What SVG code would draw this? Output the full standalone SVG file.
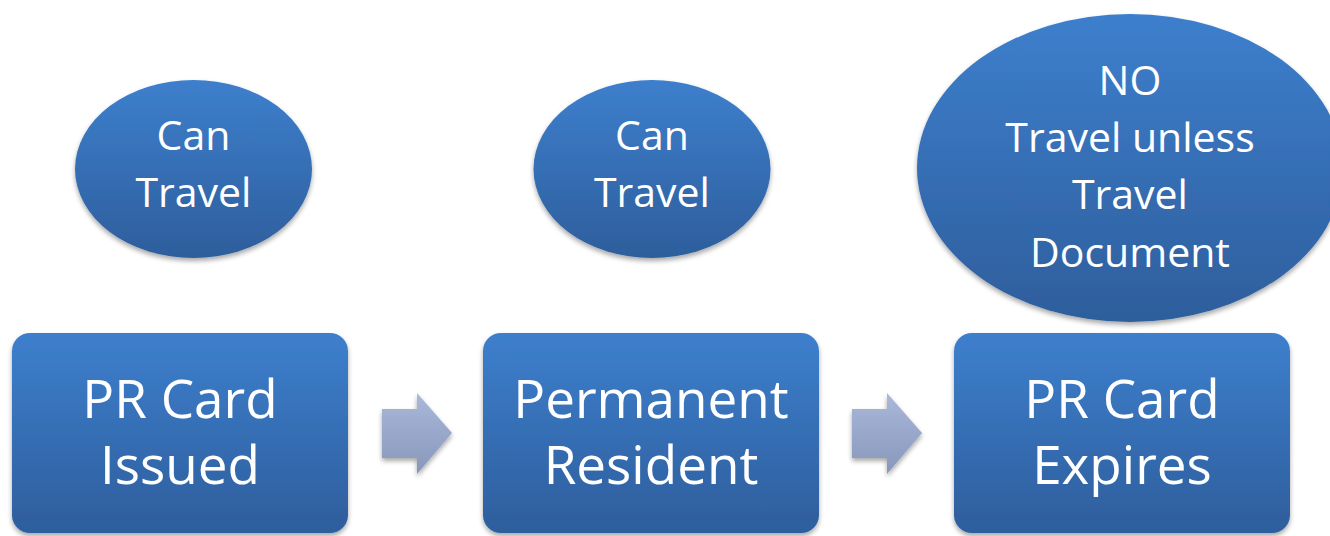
<svg xmlns="http://www.w3.org/2000/svg" width="1330" height="536" viewBox="0 0 1330 536">
<defs>
<linearGradient id="blue" x1="0" y1="0" x2="0" y2="1">
<stop offset="0" stop-color="#3d7fcd"/>
<stop offset="1" stop-color="#2e5e9c"/>
</linearGradient>
<linearGradient id="arr" x1="0" y1="0" x2="0" y2="1">
<stop offset="0" stop-color="#aab9da"/>
<stop offset="1" stop-color="#8797ba"/>
</linearGradient>
<filter id="sh" x="-10%" y="-10%" width="120%" height="125%">
<feGaussianBlur in="SourceAlpha" stdDeviation="2.5"/>
<feOffset dx="0" dy="3" result="b"/>
<feComponentTransfer><feFuncA type="linear" slope="0.35"/></feComponentTransfer>
<feMerge><feMergeNode/><feMergeNode in="SourceGraphic"/></feMerge>
</filter>
</defs>
<style>
.box{fill:url(#blue);filter:url(#sh)}
.ell{fill:url(#blue);filter:url(#sh)}
.arrow{fill:url(#arr);filter:url(#sh)}
.big{font-family:"Open Sans","Liberation Sans",sans-serif;font-size:53px;fill:#ffffff;text-anchor:middle}
.sm{font-family:"Open Sans","Liberation Sans",sans-serif;font-size:41px;fill:#ffffff;text-anchor:middle}
</style>
<rect width="1330" height="536" fill="#ffffff"/>
<g id="connectors">
<path class="arrow" d="M382,409 H417 V393 L452,433 L417,474 V458 H382 Z"/>
<path class="arrow" d="M852,409 H887 V393 L922,433 L887,474 V458 H852 Z"/>
</g>
<g id="ellipse1">
<ellipse class="ell" cx="193.5" cy="169" rx="118.5" ry="89"/>
<text class="sm" x="193.5" y="150">Can</text>
<text class="sm" x="193.5" y="207">Travel</text>
</g>
<g id="ellipse2">
<ellipse class="ell" cx="652" cy="169" rx="118.5" ry="89"/>
<text class="sm" x="652" y="150">Can</text>
<text class="sm" x="652" y="207">Travel</text>
</g>
<g id="ellipse3">
<ellipse class="ell" cx="1130" cy="168" rx="213" ry="154"/>
<text class="sm" x="1130" y="95">NO</text>
<text class="sm" x="1130" y="152">Travel unless</text>
<text class="sm" x="1130" y="209">Travel</text>
<text class="sm" x="1130" y="267">Document</text>
</g>
<g id="box1">
<rect class="box" x="12" y="333" width="336" height="200" rx="18"/>
<text class="big" x="180" y="418">PR Card</text>
<text class="big" x="180" y="484">Issued</text>
</g>
<g id="box2">
<rect class="box" x="483" y="333" width="336" height="200" rx="18"/>
<text class="big" x="651" y="418">Permanent</text>
<text class="big" x="651" y="484">Resident</text>
</g>
<g id="box3">
<rect class="box" x="954" y="333" width="336" height="200" rx="18"/>
<text class="big" x="1122" y="418">PR Card</text>
<text class="big" x="1122" y="484">Expires</text>
</g>
</svg>
